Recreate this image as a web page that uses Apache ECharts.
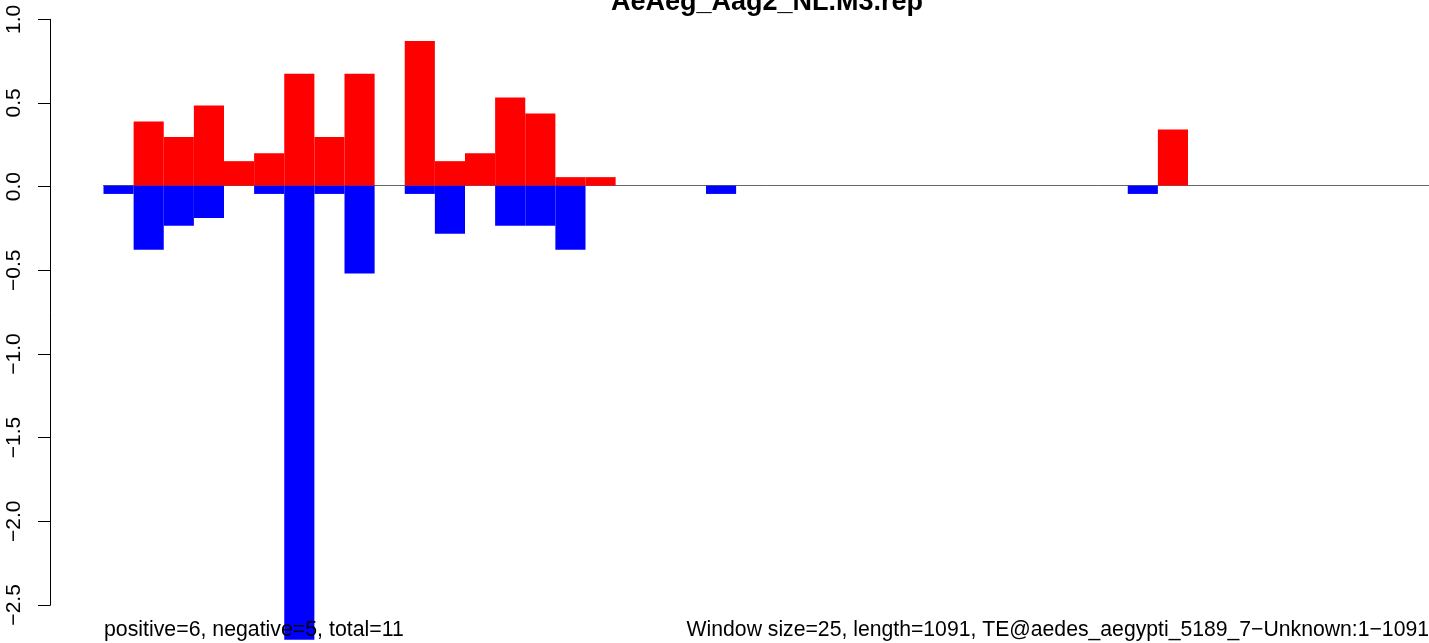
<!DOCTYPE html>
<html>
<head>
<meta charset="utf-8">
<script src="https://cdn.jsdelivr.net/npm/echarts@6/dist/echarts.min.js"></script>
<style>
html,body{margin:0;padding:0;background:#fff;}
#main{width:1429px;height:643px;}
</style>
</head>
<body>
<div id="main"></div>
<script>
// Window index (25 bp windows over length 1091)
const windows = [1,2,3,4,5,6,7,8,9,10,11,12,13,14,15,16,17,18,19,20,21,22,23,24,25,26,27,28,29,30,31,32,33,34,35,36,37,38,39,40,41,42,43,44];
// positive-strand values (red)
const positiveValues = [0,0.386,0.292,0.482,0.147,0.195,0.673,0.292,0.673,0,0.870,0.147,0.195,0.530,0.434,0.051,0.051,0,0,0,0,0,0,0,0,0,0,0,0,0,0,0,0,0,0,0.338,0,0,0,0,0,0,0,0];
// negative-strand values (blue)
const negativeValues = [-0.050,-0.385,-0.241,-0.194,0,-0.050,-2.73,-0.050,-0.528,0,-0.050,-0.289,0,-0.241,-0.241,-0.385,0,0,0,0,-0.050,0,0,0,0,0,0,0,0,0,0,0,0,0,-0.050,0,0,0,0,0,0,0,0,0];
const yTicks = [1.0,0.5,0.0,-0.5,-1.0,-1.5,-2.0,-2.5];
const titleText = 'AeAeg_Aag2_NL.M3.rep';
const leftNote = 'positive=6, negative=5, total=11';
const rightNote = 'Window size=25, length=1091, TE@aedes_aegypti_5189_7\u2212Unknown:1\u22121091';

const chart = echarts.init(document.getElementById('main'), null, {renderer:'canvas'});
const font = 'Liberation Sans, Arial, Helvetica, sans-serif';
chart.setOption({
  animation:false,
  backgroundColor:'#ffffff',
  grid:[
    {left:103.5, width:1325.5, top:19.3, height:627.4, containLabel:false},
    {left:50.5, width:10, top:19.3, height:585.6, containLabel:false}
  ],
  xAxis:[
    {type:'category', gridIndex:0, data:windows, boundaryGap:true,
     axisLine:{show:true, onZero:true, lineStyle:{color:'#666', width:1}},
     axisTick:{show:false}, axisLabel:{show:false}, splitLine:{show:false}},
    {type:'value', gridIndex:1, show:false}
  ],
  yAxis:[
    {type:'value', gridIndex:0, min:-2.75, max:1.0, show:false, splitLine:{show:false}},
    {type:'value', gridIndex:1, min:-2.5, max:1.0, interval:0.5, position:'left',
     axisLine:{show:true, lineStyle:{color:'#000', width:1}},
     axisTick:{show:true, length:12.5, lineStyle:{color:'#000', width:1}},
     splitLine:{show:false},
     axisLabel:{show:true, rotate:90, margin:26, color:'#000', fontSize:21, fontFamily:font,
       formatter:function(v){ const t = yTicks.find(x=>Math.abs(x-v)<1e-9); return (t===undefined? v : t).toFixed(1).replace('-', '\u2212'); }}
    }
  ],
  series:[
    {type:'bar', xAxisIndex:0, yAxisIndex:0, data:negativeValues, barCategoryGap:'0%', barGap:'-100%',
     itemStyle:{color:'#0000ff'}, z:2},
    {type:'bar', xAxisIndex:0, yAxisIndex:0, data:positiveValues, barCategoryGap:'0%', barGap:'-100%',
     itemStyle:{color:'#ff0000'}, z:3}
  ],
  graphic:[
    {type:'text', z:10,
     style:{text:titleText, x:767, y:2.5, textAlign:'center', verticalAlign:'middle', font:'bold 27px '+font, fill:'#000'}},
    {type:'text', z:10, style:{text:leftNote, x:104, y:630, textAlign:'left', verticalAlign:'middle', font:'21.3px '+font, fill:'#000'}},
    {type:'text', z:10, style:{text:rightNote, x:1429, y:630, textAlign:'right', verticalAlign:'middle', font:'21.2px '+font, fill:'#000'}}
  ]
});
</script>
</body>
</html>
